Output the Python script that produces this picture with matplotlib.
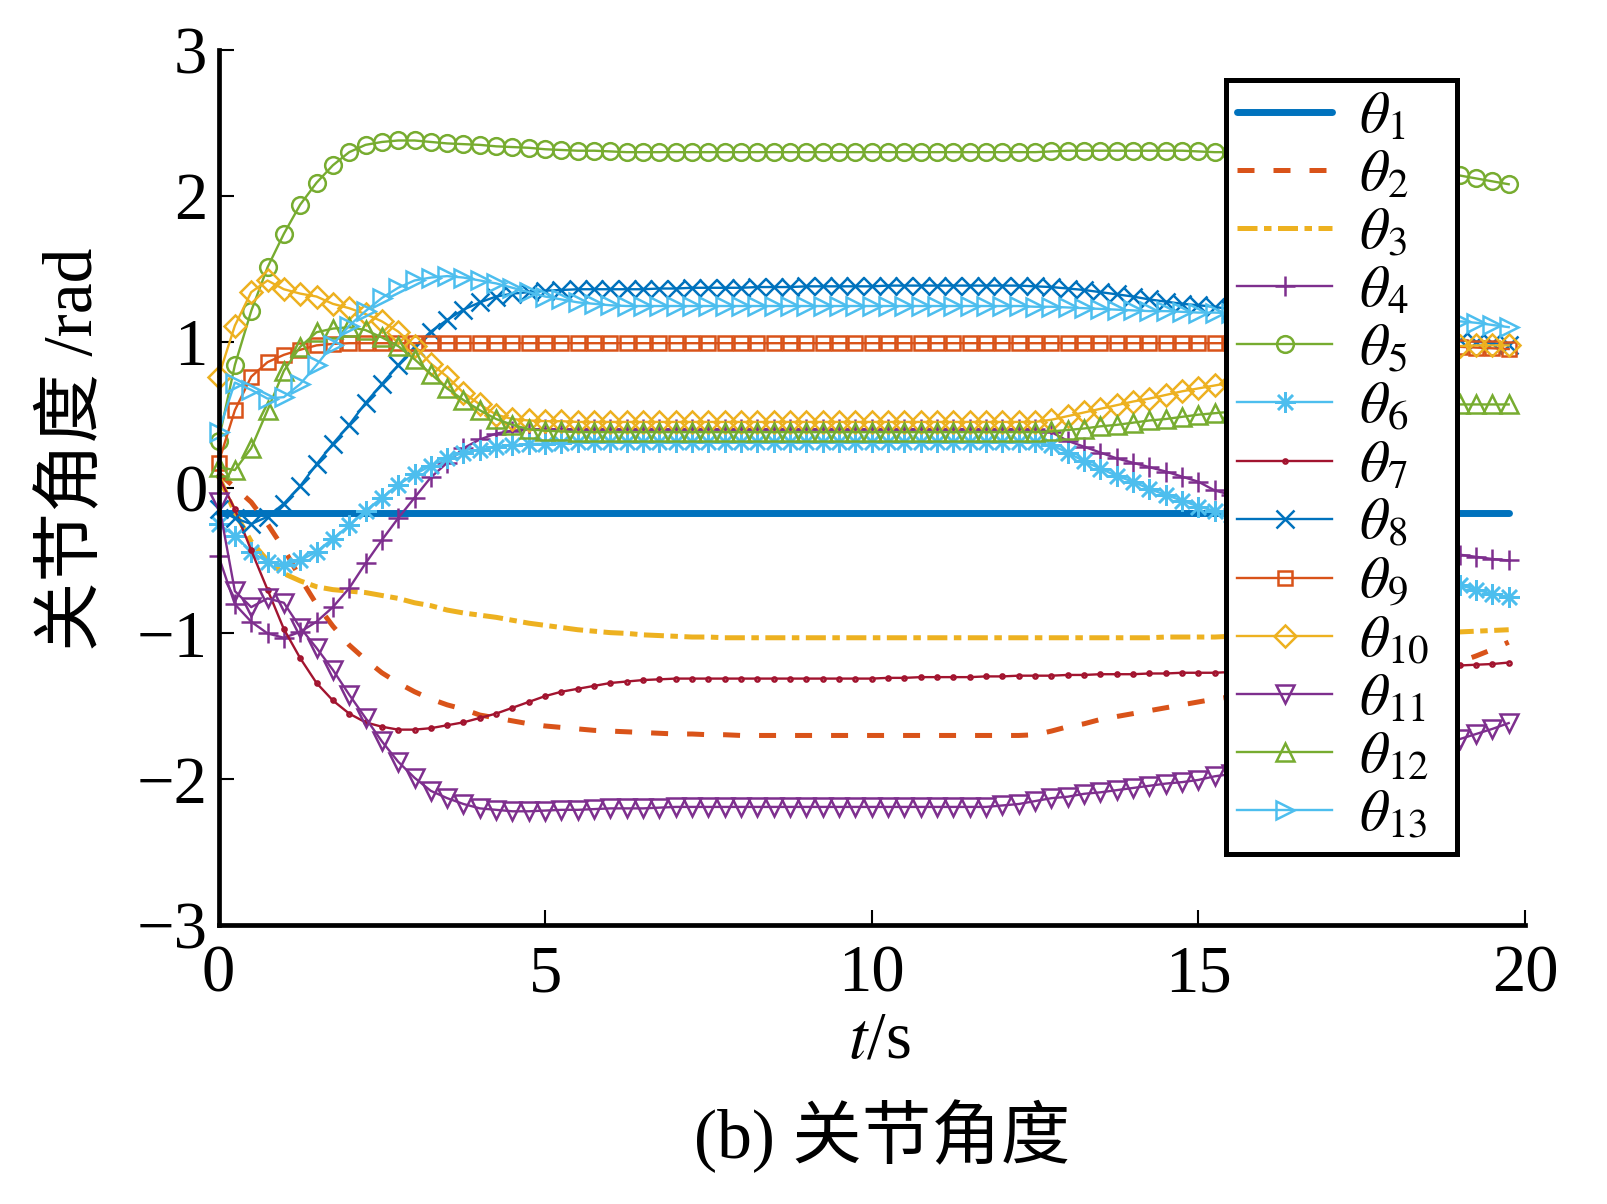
import numpy as np
import matplotlib
matplotlib.use("Agg")
import matplotlib.pyplot as plt

plt.rcParams['font.family'] = ['Liberation Serif', 'Noto Sans CJK SC']
plt.rcParams['mathtext.fontset'] = 'stix'

# sample times (s), one marker every 0.25 s
t = np.arange(80) * 0.25

theta1 = [-0.175, -0.175, -0.175, -0.175, -0.175, -0.175, -0.175, -0.175,
          -0.175, -0.175, -0.175, -0.175, -0.175, -0.175, -0.175, -0.175,
          -0.175, -0.175, -0.175, -0.175, -0.175, -0.175, -0.175, -0.175,
          -0.175, -0.175, -0.175, -0.175, -0.175, -0.175, -0.175, -0.175,
          -0.175, -0.175, -0.175, -0.175, -0.175, -0.175, -0.175, -0.175,
          -0.175, -0.175, -0.175, -0.175, -0.175, -0.175, -0.175, -0.175,
          -0.175, -0.175, -0.175, -0.175, -0.175, -0.175, -0.175, -0.175,
          -0.175, -0.175, -0.175, -0.175, -0.175, -0.175, -0.175, -0.175,
          -0.175, -0.175, -0.175, -0.175, -0.175, -0.175, -0.175, -0.175,
          -0.175, -0.175, -0.175, -0.175, -0.175, -0.175, -0.175, -0.175]
theta2 = [0.10, 0.00, -0.10, -0.25, -0.42, -0.62, -0.80, -0.95,
          -1.08, -1.18, -1.27, -1.34, -1.40, -1.45, -1.49, -1.52,
          -1.56, -1.58, -1.60, -1.62, -1.635, -1.645, -1.655, -1.665,
          -1.67, -1.675, -1.68, -1.685, -1.69, -1.69, -1.695, -1.695,
          -1.70, -1.70, -1.70, -1.70, -1.70, -1.70, -1.70, -1.70,
          -1.70, -1.70, -1.70, -1.70, -1.70, -1.70, -1.70, -1.70,
          -1.70, -1.70, -1.695, -1.67, -1.64, -1.62, -1.59, -1.57,
          -1.55, -1.53, -1.51, -1.49, -1.47, -1.45, -1.435, -1.42,
          -1.405, -1.39, -1.375, -1.36, -1.345, -1.33, -1.315, -1.30,
          -1.285, -1.27, -1.25, -1.225, -1.195, -1.155, -1.11, -1.06]
theta3 = [0.08, -0.17, -0.37, -0.50, -0.59, -0.64, -0.68, -0.70,
          -0.71, -0.72, -0.74, -0.76, -0.79, -0.81, -0.84, -0.86,
          -0.875, -0.89, -0.91, -0.93, -0.945, -0.96, -0.975, -0.985,
          -0.995, -1.00, -1.01, -1.015, -1.02, -1.025, -1.025, -1.03,
          -1.03, -1.03, -1.03, -1.03, -1.03, -1.03, -1.03, -1.03,
          -1.03, -1.03, -1.03, -1.03, -1.03, -1.03, -1.03, -1.03,
          -1.03, -1.03, -1.03, -1.03, -1.03, -1.03, -1.03, -1.03,
          -1.03, -1.03, -1.025, -1.025, -1.025, -1.025, -1.02, -1.02,
          -1.02, -1.015, -1.015, -1.01, -1.01, -1.005, -1.005, -1.00,
          -1.00, -0.995, -0.995, -0.99, -0.99, -0.985, -0.98, -0.975]
theta4 = [-0.47, -0.80, -0.92, -1.00, -1.03, -0.99, -0.92, -0.82,
          -0.69, -0.52, -0.36, -0.21, -0.07, 0.07, 0.17, 0.27,
          0.33, 0.37, 0.39, 0.40, 0.40, 0.40, 0.40, 0.40,
          0.40, 0.40, 0.40, 0.40, 0.40, 0.40, 0.40, 0.40,
          0.40, 0.40, 0.40, 0.40, 0.40, 0.40, 0.40, 0.40,
          0.40, 0.40, 0.40, 0.40, 0.40, 0.40, 0.40, 0.40,
          0.40, 0.40, 0.40, 0.38, 0.32, 0.28, 0.24, 0.20,
          0.17, 0.14, 0.11, 0.075, 0.04, -0.02, -0.05, -0.08,
          -0.11, -0.14, -0.17, -0.20, -0.23, -0.26, -0.29, -0.32,
          -0.35, -0.38, -0.41, -0.44, -0.46, -0.475, -0.49, -0.50]
theta5 = [0.32, 0.84, 1.21, 1.51, 1.74, 1.94, 2.09, 2.21,
          2.30, 2.35, 2.37, 2.38, 2.38, 2.37, 2.36, 2.355,
          2.35, 2.34, 2.335, 2.33, 2.32, 2.315, 2.31, 2.31,
          2.305, 2.30, 2.30, 2.30, 2.30, 2.30, 2.30, 2.30,
          2.30, 2.30, 2.30, 2.30, 2.30, 2.30, 2.30, 2.30,
          2.30, 2.30, 2.30, 2.30, 2.30, 2.30, 2.30, 2.30,
          2.30, 2.30, 2.30, 2.305, 2.31, 2.31, 2.31, 2.31,
          2.31, 2.31, 2.31, 2.31, 2.305, 2.30, 2.30, 2.295,
          2.29, 2.285, 2.28, 2.27, 2.26, 2.25, 2.24, 2.225,
          2.21, 2.195, 2.18, 2.16, 2.14, 2.12, 2.10, 2.08]
theta6 = [-0.25, -0.33, -0.44, -0.51, -0.53, -0.50, -0.44, -0.35,
          -0.26, -0.16, -0.07, 0.02, 0.09, 0.15, 0.20, 0.24,
          0.26, 0.28, 0.29, 0.30, 0.30, 0.305, 0.31, 0.31,
          0.31, 0.31, 0.31, 0.31, 0.31, 0.31, 0.31, 0.31,
          0.31, 0.31, 0.31, 0.31, 0.31, 0.31, 0.31, 0.31,
          0.31, 0.31, 0.31, 0.31, 0.31, 0.31, 0.31, 0.31,
          0.31, 0.31, 0.31, 0.29, 0.24, 0.18, 0.13, 0.08,
          0.04, -0.01, -0.05, -0.09, -0.13, -0.16, -0.19, -0.22,
          -0.25, -0.28, -0.31, -0.35, -0.38, -0.41, -0.45, -0.48,
          -0.52, -0.55, -0.59, -0.63, -0.67, -0.70, -0.73, -0.75]
theta7 = [0.08, -0.15, -0.43, -0.70, -0.97, -1.17, -1.34, -1.46,
          -1.55, -1.61, -1.64, -1.66, -1.66, -1.65, -1.63, -1.61,
          -1.58, -1.55, -1.51, -1.47, -1.43, -1.40, -1.38, -1.36,
          -1.34, -1.33, -1.32, -1.315, -1.31, -1.31, -1.31, -1.31,
          -1.31, -1.31, -1.31, -1.31, -1.31, -1.31, -1.31, -1.31,
          -1.31, -1.305, -1.305, -1.30, -1.30, -1.30, -1.30, -1.295,
          -1.295, -1.29, -1.29, -1.29, -1.285, -1.285, -1.28, -1.28,
          -1.28, -1.275, -1.275, -1.27, -1.27, -1.27, -1.265, -1.265,
          -1.26, -1.26, -1.255, -1.255, -1.25, -1.25, -1.245, -1.24,
          -1.24, -1.235, -1.23, -1.225, -1.22, -1.215, -1.21, -1.20]
theta8 = [-0.15, -0.21, -0.25, -0.20, -0.11, 0.01, 0.16, 0.30,
          0.43, 0.58, 0.71, 0.84, 0.965, 1.07, 1.15, 1.22,
          1.27, 1.31, 1.33, 1.34, 1.35, 1.355, 1.36, 1.36,
          1.36, 1.36, 1.36, 1.365, 1.365, 1.37, 1.37, 1.37,
          1.37, 1.375, 1.375, 1.375, 1.38, 1.38, 1.38, 1.38,
          1.38, 1.385, 1.385, 1.385, 1.385, 1.385, 1.385, 1.385,
          1.385, 1.385, 1.38, 1.375, 1.365, 1.355, 1.34, 1.325,
          1.31, 1.29, 1.275, 1.26, 1.25, 1.24, 1.22, 1.20,
          1.18, 1.16, 1.14, 1.125, 1.11, 1.095, 1.08, 1.065,
          1.05, 1.04, 1.03, 1.02, 1.01, 1.00, 0.99, 0.98]
theta9 = [0.17, 0.53, 0.76, 0.86, 0.91, 0.945, 0.975, 0.985,
          0.99, 0.99, 0.99, 0.99, 0.99, 0.99, 0.99, 0.99,
          0.99, 0.99, 0.99, 0.99, 0.99, 0.99, 0.99, 0.99,
          0.99, 0.99, 0.99, 0.99, 0.99, 0.99, 0.99, 0.99,
          0.99, 0.99, 0.99, 0.99, 0.99, 0.99, 0.99, 0.99,
          0.99, 0.99, 0.99, 0.99, 0.99, 0.99, 0.99, 0.99,
          0.99, 0.99, 0.99, 0.99, 0.99, 0.99, 0.99, 0.99,
          0.99, 0.99, 0.99, 0.99, 0.99, 0.99, 0.99, 0.99,
          0.99, 0.99, 0.99, 0.99, 0.99, 0.99, 0.99, 0.99,
          0.985, 0.98, 0.975, 0.97, 0.965, 0.96, 0.955, 0.95]
theta10 = [0.76, 1.11, 1.34, 1.42, 1.36, 1.33, 1.31, 1.26,
           1.23, 1.19, 1.14, 1.07, 0.97, 0.85, 0.76, 0.65,
           0.57, 0.50, 0.47, 0.46, 0.455, 0.455, 0.45, 0.45,
           0.45, 0.45, 0.45, 0.45, 0.45, 0.45, 0.45, 0.45,
           0.45, 0.45, 0.45, 0.45, 0.45, 0.45, 0.45, 0.45,
           0.45, 0.45, 0.45, 0.45, 0.45, 0.45, 0.45, 0.45,
           0.45, 0.45, 0.45, 0.465, 0.49, 0.515, 0.54, 0.565,
           0.59, 0.61, 0.635, 0.66, 0.68, 0.70, 0.72, 0.74,
           0.76, 0.78, 0.80, 0.82, 0.84, 0.86, 0.88, 0.90,
           0.915, 0.93, 0.945, 0.96, 0.97, 0.975, 0.975, 0.975]
theta11 = [-0.10, -0.71, -0.82, -0.76, -0.79, -0.96, -1.10, -1.25,
           -1.42, -1.58, -1.74, -1.88, -1.99, -2.08, -2.13, -2.17,
           -2.20, -2.21, -2.22, -2.22, -2.215, -2.21, -2.21, -2.205,
           -2.20, -2.20, -2.20, -2.195, -2.19, -2.19, -2.19, -2.19,
           -2.19, -2.19, -2.19, -2.19, -2.19, -2.19, -2.19, -2.19,
           -2.19, -2.19, -2.19, -2.19, -2.19, -2.19, -2.19, -2.19,
           -2.18, -2.17, -2.15, -2.13, -2.12, -2.10, -2.09, -2.075,
           -2.06, -2.045, -2.03, -2.02, -2.005, -1.98, -1.965, -1.95,
           -1.935, -1.92, -1.905, -1.89, -1.87, -1.855, -1.84, -1.82,
           -1.80, -1.785, -1.765, -1.745, -1.725, -1.69, -1.655, -1.615]
theta12 = [0.14, 0.12, 0.27, 0.53, 0.80, 0.965, 1.065, 1.09,
           1.10, 1.08, 1.03, 0.97, 0.88, 0.78, 0.68, 0.60,
           0.53, 0.47, 0.43, 0.40, 0.39, 0.385, 0.38, 0.38,
           0.38, 0.38, 0.38, 0.38, 0.38, 0.38, 0.38, 0.38,
           0.38, 0.38, 0.38, 0.38, 0.38, 0.38, 0.38, 0.38,
           0.38, 0.38, 0.38, 0.38, 0.38, 0.38, 0.38, 0.38,
           0.38, 0.38, 0.38, 0.385, 0.395, 0.405, 0.42, 0.43,
           0.445, 0.46, 0.47, 0.485, 0.50, 0.51, 0.52, 0.53,
           0.535, 0.54, 0.545, 0.55, 0.555, 0.56, 0.565, 0.57,
           0.57, 0.57, 0.57, 0.57, 0.57, 0.57, 0.57, 0.57]
theta13 = [0.38, 0.72, 0.67, 0.61, 0.62, 0.71, 0.84, 0.98,
           1.11, 1.21, 1.30, 1.37, 1.42, 1.44, 1.45, 1.44,
           1.42, 1.40, 1.37, 1.34, 1.31, 1.29, 1.27, 1.26,
           1.25, 1.245, 1.245, 1.245, 1.245, 1.245, 1.245, 1.245,
           1.245, 1.245, 1.245, 1.245, 1.245, 1.245, 1.245, 1.245,
           1.245, 1.245, 1.245, 1.245, 1.245, 1.245, 1.245, 1.245,
           1.245, 1.245, 1.24, 1.24, 1.235, 1.23, 1.225, 1.22,
           1.215, 1.21, 1.21, 1.205, 1.20, 1.20, 1.195, 1.19,
           1.19, 1.185, 1.18, 1.18, 1.175, 1.17, 1.165, 1.16,
           1.16, 1.155, 1.15, 1.145, 1.14, 1.13, 1.115, 1.10]

blue = '#0072BD'
orange = '#D95319'
yellow = '#EDB120'
purple = '#7E2F8E'
green = '#77AC30'
cyan = '#4DBEEE'
red = '#A2142F'

fig = plt.figure(figsize=(16.08, 12.04), dpi=100)
ax = fig.add_axes([0.1359, 0.2317, 0.8125, 0.7267])

mk = dict(lw=1.7, mfc='none', mew=1.8, clip_on=False)
ax.plot(t, theta1, color=blue, lw=5, solid_capstyle='round', clip_on=False, label=r'$\theta_{1}$')
ax.plot(t, theta2, color=orange, lw=3.6, dashes=(3.4, 3.8), clip_on=False, label=r'$\theta_{2}$')
ax.plot(t, theta3, color=yellow, lw=3.6, dashes=(4.0, 1.3, 1.5, 1.3), clip_on=False, label=r'$\theta_{3}$')
ax.plot(t, theta4, color=purple, marker='+', ms=15, label=r'$\theta_{4}$', **mk)
ax.plot(t, theta5, color=green, marker='o', ms=12, label=r'$\theta_{5}$', **mk)
ax.plot(t, theta6, color=cyan, marker=(8, 2, 0), ms=15, label=r'$\theta_{6}$', **mk)
ax.plot(t, theta7, color=red, marker='.', ms=6, label=r'$\theta_{7}$', **mk)
ax.plot(t, theta8, color=blue, marker='x', ms=13, label=r'$\theta_{8}$', **mk)
ax.plot(t, theta9, color=orange, marker='s', ms=10.5, label=r'$\theta_{9}$', **mk)
ax.plot(t, theta10, color=yellow, marker='D', ms=11.5, label=r'$\theta_{10}$', **mk)
ax.plot(t, theta11, color=purple, marker='v', ms=12.5, label=r'$\theta_{11}$', **mk)
ax.plot(t, theta12, color=green, marker='^', ms=12.5, label=r'$\theta_{12}$', **mk)
ax.plot(t, theta13, color=cyan, marker='>', ms=12.5, label=r'$\theta_{13}$', **mk)

ax.set_xlim(0, 20)
ax.set_ylim(-3, 3)
ax.set_xticks([0, 5, 10, 15, 20])
ax.set_yticks([-3, -2, -1, 0, 1, 2, 3])
ax.set_yticklabels(['\u22123', '\u22122', '\u22121', '0', '1', '2', '3'])

for side in ['top', 'right']:
    ax.spines[side].set_visible(False)
for side in ['left', 'bottom']:
    ax.spines[side].set_linewidth(3.4)
ax.tick_params(direction='in', length=11, width=1.5, labelsize=48)
ax.tick_params(axis='y', pad=8)
ax.tick_params(axis='x', pad=14)

ax.set_ylabel('关节角度 /rad', fontsize=50, ha='center', va='center')
ax.yaxis.set_label_coords(-0.11, 0.544)
ax.set_xlabel('$t$/s', fontsize=48, ha='center', va='center')
ax.xaxis.set_label_coords(0.506, -0.1326)

fig.text(0.5485, 0.0565, '(b) 关节角度', fontsize=50, ha='center', va='center')

leg = ax.legend(loc='upper left', bbox_to_anchor=(0.7622, 0.2907, 0.1437, 0.6429),
                bbox_transform=fig.transFigure, borderaxespad=0, mode='expand',
                fontsize=42, fancybox=False, edgecolor='black', framealpha=1,
                handlelength=1.63, handletextpad=0.46, labelspacing=0.09,
                borderpad=0.2)
leg.get_frame().set_linewidth(3.6)

fig.savefig('out.png', dpi=100)
